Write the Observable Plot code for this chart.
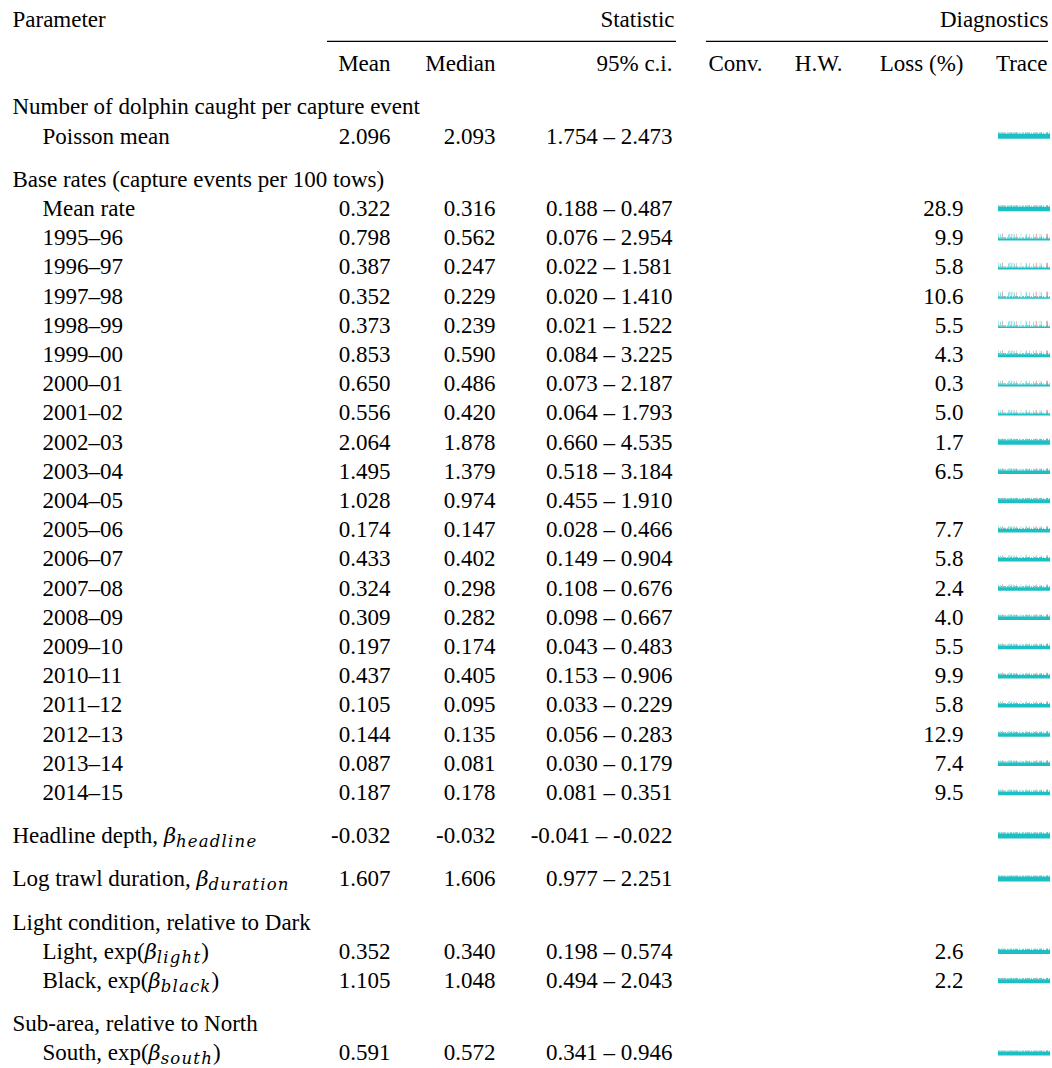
<!DOCTYPE html>
<html>
<head>
<meta charset="utf-8">
<script src="https://cdn.jsdelivr.net/npm/d3@7"></script>
<script src="https://cdn.jsdelivr.net/npm/@observablehq/plot@0.6"></script>
<style>
  html, body { margin: 0; padding: 0; background: #fff; }
  #chart svg { display: block; }
</style>
</head>
<body>
<div id="chart"></div>
<script>
// ---------------- DATA ----------------
const groupTitles = [
  "Number of dolphin caught per capture event",
  "Base rates (capture events per 100 tows)",
  null,
  null,
  "Light condition, relative to Dark",
  "Sub-area, relative to North"
];

const paramLabels = [
  "Poisson mean",
  "Mean rate", "1995–96", "1996–97", "1997–98", "1998–99", "1999–00", "2000–01",
  "2001–02", "2002–03", "2003–04", "2004–05", "2005–06", "2006–07", "2007–08",
  "2008–09", "2009–10", "2010–11", "2011–12", "2012–13", "2013–14", "2014–15",
  "Headline depth, β{headline}",
  "Log trawl duration, β{duration}",
  "Light, exp(β{light})",
  "Black, exp(β{black})",
  "South, exp(β{south})"
];
const paramGroup = [0, 1,1,1,1,1,1,1,1,1,1,1,1,1,1,1,1,1,1,1,1,1, 2, 3, 4, 4, 5];

const means   = [2.096, 0.322,0.798,0.387,0.352,0.373,0.853,0.650,0.556,2.064,1.495,1.028,0.174,0.433,0.324,0.309,0.197,0.437,0.105,0.144,0.087,0.187, -0.032, 1.607, 0.352, 1.105, 0.591];
const medians = [2.093, 0.316,0.562,0.247,0.229,0.239,0.590,0.486,0.420,1.878,1.379,0.974,0.147,0.402,0.298,0.282,0.174,0.405,0.095,0.135,0.081,0.178, -0.032, 1.606, 0.340, 1.048, 0.572];
const ciLow   = [1.754, 0.188,0.076,0.022,0.020,0.021,0.084,0.073,0.064,0.660,0.518,0.455,0.028,0.149,0.108,0.098,0.043,0.153,0.033,0.056,0.030,0.081, -0.041, 0.977, 0.198, 0.494, 0.341];
const ciHigh  = [2.473, 0.487,2.954,1.581,1.410,1.522,3.225,2.187,1.793,4.535,3.184,1.910,0.466,0.904,0.676,0.667,0.483,0.906,0.229,0.283,0.179,0.351, -0.022, 2.251, 0.574, 2.043, 0.946];
const lossPct = [null, 28.9,9.9,5.8,10.6,5.5,4.3,0.3,5.0,1.7,6.5,null,7.7,5.8,2.4,4.0,5.5,9.9,5.8,12.9,7.4,9.5, null, null, 2.6, 2.2, null];

// MCMC trace appearance: spread of the dense core and of the sparse spikes
const traceCore  = [5, 4.5,2,2,1.5,1.5,3,2,2,4.5,3.5,4,3.5,3.5,3.5,3.5,3.5,3.5,3.5,3.5,3.5,3.5, 5,5,4,4,4];
const traceSpike = [1.5, 1.5,5,5,6,6,4,4,4,2,2.5,1.5,3,3,3,2.5,2.5,2.5,3,2.5,2.5,2.5, 1,1,1.5,1.5,1];

const topHeaders  = ["Parameter", "Statistic", "Diagnostics"];
const statHeaders = ["Mean", "Median", "95% c.i."];
const diagHeaders = ["Conv.", "H.W.", "Loss (%)", "Trace"];

// ---------------- LAYOUT ----------------
const W = 1052, H = 1068;
const FONT = "'Liberation Serif', 'Times New Roman', Times, serif";
const MATH = "'DejaVu Serif', 'Liberation Serif', serif";
const FS = 23;
const PITCH = 29.2;
const GAP = 14 / PITCH;               // extra spacing between groups, in line units
const X = {label: 12, indent: 42, mean: 390, median: 495, ci: 672,
           conv: 762, hw: 842, loss: 963, traceL: 998, traceR: 1050,
           statEnd: 674, diagEnd: 1048};
const statRule = [327, 676], diagRule = [706, 1048];
const HDR = {top: -3.0, rule: -2.25, cols: -1.5};
const TEAL = "#1cbfc3", PINK = "#f8766d";
const BASE = 2.5;                     // px below row centre where the trace core sits

// Build row positions from order
let L = 0;
const titleRows = [], rows = [];
groupTitles.forEach((title, gi) => {
  if (gi > 0) L += GAP;
  if (title) { titleRows.push({pos: L, text: title}); L += 1; }
  paramLabels.forEach((lab, i) => {
    if (paramGroup[i] !== gi) return;
    rows.push({
      pos: L, label: lab, indent: !!title,
      mean: means[i], median: medians[i], lo: ciLow[i], hi: ciHigh[i],
      loss: lossPct[i], core: traceCore[i], spike: traceSpike[i]
    });
    L += 1;
  });
});
const lastPos = L - 1;

const fmt3 = v => v.toFixed(3);
const textOpts = {fontFamily: FONT, fontSize: FS, fill: "black", lineAnchor: "middle"};

const headerTop = topHeaders.map((t, i) => ({t, x: [X.label, X.statEnd, X.diagEnd][i], anchor: i === 0 ? "start" : "end"}));
const headerCols = [
  ...statHeaders.map((t, i) => ({t, x: [X.mean, X.median, X.ci][i]})),
  ...diagHeaders.map((t, i) => ({t, x: [X.conv, X.hw, X.loss, X.diagEnd - 1][i]}))
];

const px = v => v / PITCH;   // px offset -> line units

const chart = Plot.plot({
  width: W, height: H,
  marginTop: 0, marginBottom: 0, marginLeft: 0, marginRight: 0,
  style: {fontFamily: FONT, fontSize: FS + "px", background: "white", color: "black"},
  x: {domain: [0, W], range: [0, W], axis: null},
  y: {domain: [0, lastPos], range: [106.6, 1052.6], axis: null},
  marks: [
    // header texts
    Plot.text(headerTop.filter(d => d.anchor === "start"), {...textOpts, x: "x", y: () => HDR.top, text: "t", textAnchor: "start"}),
    Plot.text(headerTop.filter(d => d.anchor === "end"), {...textOpts, x: "x", y: () => HDR.top, text: "t", textAnchor: "end"}),
    Plot.ruleY([{x1: statRule[0], x2: statRule[1]}, {x1: diagRule[0], x2: diagRule[1]}],
      {y: () => HDR.rule, x1: "x1", x2: "x2", stroke: "black", strokeWidth: 1.2}),
    Plot.text(headerCols, {...textOpts, x: "x", y: () => HDR.cols, text: "t", textAnchor: "end"}),
    // group titles
    Plot.text(titleRows, {...textOpts, x: () => X.label, y: "pos", text: "text", textAnchor: "start"}),
    // parameter labels
    Plot.text(rows, {...textOpts, x: d => d.indent ? X.indent : X.label, y: "pos", text: "label", textAnchor: "start"}),
    // statistics
    Plot.text(rows, {...textOpts, x: () => X.mean, y: "pos", text: d => fmt3(d.mean), textAnchor: "end"}),
    Plot.text(rows, {...textOpts, x: () => X.median, y: "pos", text: d => fmt3(d.median), textAnchor: "end"}),
    Plot.text(rows, {...textOpts, x: () => X.ci, y: "pos", text: d => `${fmt3(d.lo)} – ${fmt3(d.hi)}`, textAnchor: "end"}),
    Plot.text(rows.filter(d => d.loss != null), {...textOpts, x: () => X.loss, y: "pos", text: d => d.loss.toFixed(1), textAnchor: "end"}),
    // traces: sparse spikes of the two chains, then the dense core
    Plot.ruleY(rows, {x1: () => X.traceL, x2: () => X.traceR,
      y: d => d.pos + px(BASE - d.core - d.spike / 2 + 0.3),
      stroke: TEAL, strokeOpacity: 0.35, strokeWidth: d => d.spike + 0.6,
      strokeDasharray: "1 3 1 6 1.5 2 1 7 1 4 1 9"}),
    Plot.ruleY(rows, {x1: () => X.traceL + 2, x2: () => X.traceR,
      y: d => d.pos + px(BASE - d.core - d.spike * 0.4 + 0.3),
      stroke: TEAL, strokeOpacity: 0.5, strokeWidth: d => d.spike * 0.8 + 0.6,
      strokeDasharray: "1 7 1 5 1 11 1 6"}),
    Plot.ruleY(rows, {x1: () => X.traceL + 4, x2: () => X.traceR,
      y: d => d.pos + px(BASE - d.core - d.spike * 0.45 + 0.3),
      stroke: PINK, strokeOpacity: 0.45, strokeWidth: d => d.spike * 0.9 + 0.6,
      strokeDasharray: "1 8 1 4 1 12 1 6 1 9"}),
    Plot.ruleY(rows, {x1: () => X.traceL, x2: () => X.traceR,
      y: d => d.pos + px(BASE - d.core / 2),
      stroke: TEAL, strokeWidth: d => d.core}),
    Plot.ruleY(rows, {x1: () => X.traceL, x2: () => X.traceR,
      y: d => d.pos + px(BASE - d.core - 0.6),
      stroke: TEAL, strokeOpacity: 0.7, strokeWidth: 1.2,
      strokeDasharray: "2 1 1 1 3 1 1 2"})
  ]
});

// math-style labels: italic beta with italic subscript
const NS = "http://www.w3.org/2000/svg";
chart.querySelectorAll("text").forEach(t => {
  const m = t.textContent.match(/^(.*)β\{(\w+)\}(.*)$/);
  if (!m) return;
  t.textContent = "";
  const add = (txt, attrs) => {
    const ts = document.createElementNS(NS, "tspan");
    ts.textContent = txt;
    for (const k in attrs) ts.setAttribute(k, attrs[k]);
    t.appendChild(ts);
  };
  add(m[1], {});
  add("β", {"font-style": "italic", "font-family": MATH, "font-size": "21"});
  add(m[2], {"font-style": "italic", "font-family": MATH, "font-size": "16.5", dy: "4", "letter-spacing": "1.2"});
  if (m[3]) add(m[3], {dy: "-4"});
});

document.getElementById("chart").appendChild(chart);
</script>
</body>
</html>
